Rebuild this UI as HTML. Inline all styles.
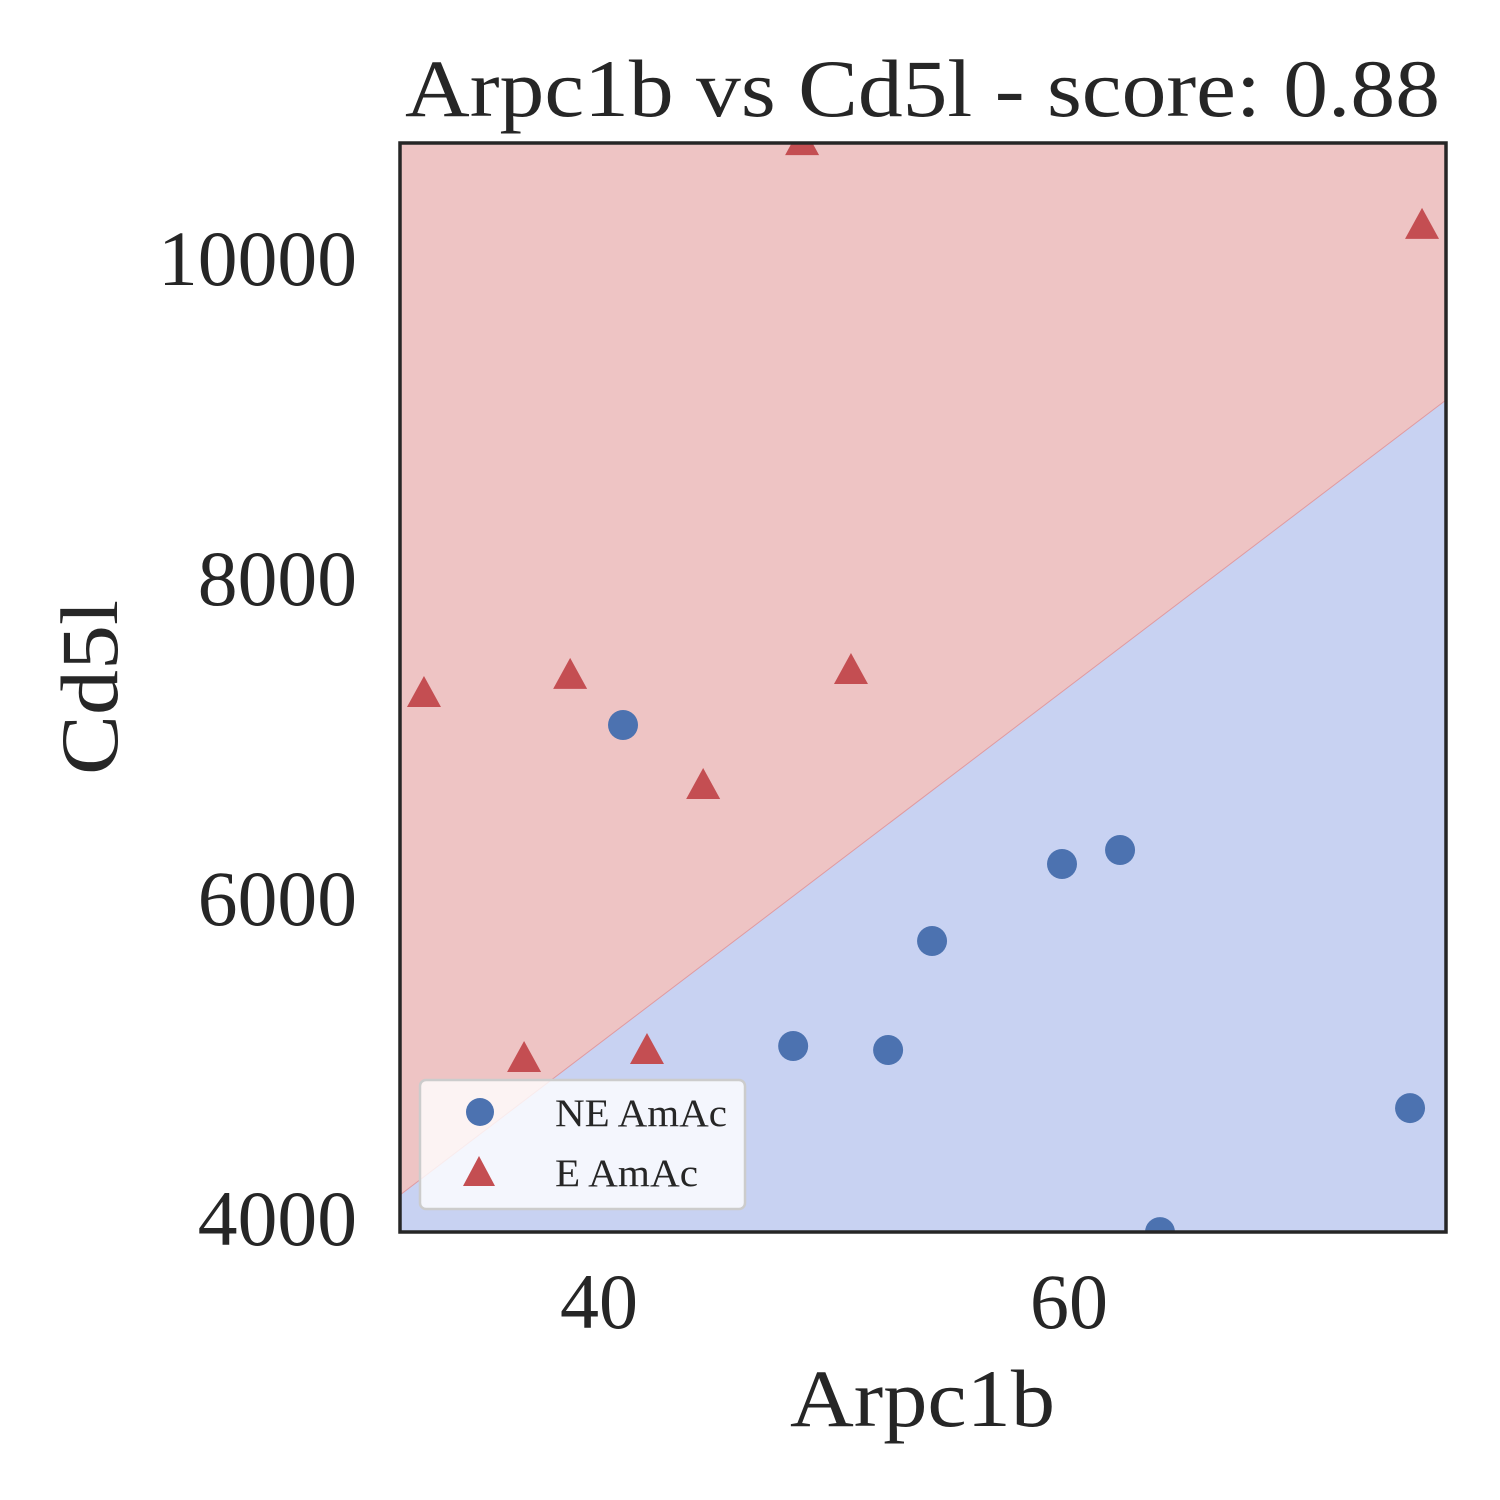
<!DOCTYPE html>
<html><head><meta charset="utf-8"><style>
body{margin:0;background:#fff}
svg{display:block;font-family:"Liberation Serif","DejaVu Serif",serif;fill:#262626}
</style></head><body>
<svg id="chart" width="1500" height="1500" viewBox="0 0 1500 1500" xmlns="http://www.w3.org/2000/svg">
<defs><clipPath id="plotclip"><rect x="400" y="143" width="1046" height="1089"/></clipPath></defs>
<text x="405" y="116" font-size="82" textLength="1035" lengthAdjust="spacingAndGlyphs">Arpc1b vs Cd5l - score: 0.88</text>
<g id="regions" clip-path="url(#plotclip)"></g>
<g id="marks" clip-path="url(#plotclip)"></g>
<rect x="400" y="143" width="1046" height="1089" fill="none" stroke="#262626" stroke-width="3.5"/>
<g id="ticks"></g>
<text x="790" y="1426" font-size="82" textLength="265" lengthAdjust="spacingAndGlyphs">Arpc1b</text>
<text transform="translate(117,775) rotate(-90)" font-size="82" textLength="175" lengthAdjust="spacingAndGlyphs">Cd5l</text>
<g>
<rect x="420" y="1080" width="325" height="129" rx="6" fill="#ffffff" fill-opacity="0.8" stroke="#cccccc" stroke-width="2.5"/>
<circle cx="480" cy="1112" r="14" fill="#4c72b0"/>
<text x="555" y="1126" font-size="39" textLength="172" lengthAdjust="spacingAndGlyphs">NE AmAc</text>
<polygon points="479,1156 495,1186 463,1186" fill="#c44e52"/>
<text x="555" y="1186" font-size="39" textLength="143" lengthAdjust="spacingAndGlyphs">E AmAc</text>
</g>
</svg>
<script>
const xDomain = [31.53, 76.04];
const yDomain = [3912.5, 10718];
const xTicks = [40, 60];
const yTicks = [4000, 6000, 8000, 10000];
const boundaryX = [31.53, 76.04];
const boundaryY = [4144, 9112];
const neX = [41.02, 59.70, 62.17, 54.17, 48.26, 52.30, 74.51, 63.87];
const neY = [7081, 6212, 6300, 5731, 5075, 5050, 4687, 3912];
const eX = [48.64, 75.02, 32.55, 38.77, 50.72, 44.43, 36.81, 42.04];
const eY = [10730, 10206, 7281, 7394, 7425, 6706, 5000, 5050];

const L=400,R=1446,T=143,B=1232;
const sx=v=>L+(v-xDomain[0])/(xDomain[1]-xDomain[0])*(R-L);
const sy=v=>B-(v-yDomain[0])/(yDomain[1]-yDomain[0])*(B-T);
const NS="http://www.w3.org/2000/svg";
function mk(t,a,p){const e=document.createElementNS(NS,t);for(const k in a)e.setAttribute(k,a[k]);p.appendChild(e);return e;}
const reg=document.getElementById('regions');
const x0=sx(boundaryX[0]),y0=sy(boundaryY[0]),x1=sx(boundaryX[1]),y1=sy(boundaryY[1]);
const red=mk('polygon',{points:`${L},${T} ${R},${T} ${x1},${y1} ${x0},${y0}`,fill:'#eec4c4'},reg);


const blue=mk('polygon',{points:`${x0},${y0} ${x1},${y1} ${R},${B} ${L},${B}`,fill:'#c8d2f2'},reg);


const bl=mk('line',{x1:x0,y1:y0,x2:x1,y2:y1,stroke:'#e09aa0','stroke-width':1},reg);


const marks=document.getElementById('marks');
neX.forEach((v,i)=>{const c=mk('circle',{cx:sx(v),cy:sy(neY[i]),r:15,fill:'#4c72b0'},marks);

});
eX.forEach((v,i)=>{const x=sx(v),y=sy(eY[i]);const p=mk('polygon',{points:`${x},${y-17} ${x+17},${y+14} ${x-17},${y+14}`,fill:'#c44e52'},marks);

});
const tk=document.getElementById('ticks');
xTicks.forEach(v=>{const t=mk('text',{x:sx(v),y:1328,'font-size':78,'text-anchor':'middle'},tk);t.textContent=v;

});
yTicks.forEach(v=>{const s=String(v);const t=mk('text',{x:357-s.length*39.8,y:sy(v)+27,'font-size':78,textLength:s.length*39.8,lengthAdjust:'spacingAndGlyphs'},tk);t.textContent=s;

});
</script>
</body></html>
